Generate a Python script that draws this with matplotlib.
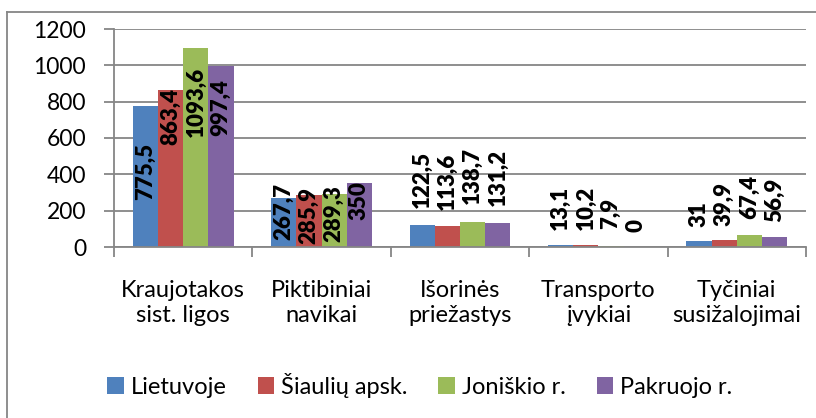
import numpy as np
import matplotlib
matplotlib.use("Agg")
import matplotlib.pyplot as plt
from matplotlib.lines import Line2D

plt.rcParams['font.family'] = ['Lato', 'DejaVu Sans']

categories = ["Kraujotakos\nsist. ligos", "Piktibiniai\nnavikai", "Išorinės\npriežastys",
              "Transporto\nįvykiai", "Tyčiniai\nsusižalojimai"]
series = ["Lietuvoje", "Šiaulių apsk.", "Joniškio r.", "Pakruojo r."]
lietuvoje = [775.5, 267.7, 122.5, 13.1, 31]
siauliu = [863.4, 285.9, 113.6, 10.2, 39.9]
joniskio = [1093.6, 289.3, 138.7, 7.9, 67.4]
pakruojo = [997.4, 350, 131.2, 0, 56.9]
labels = [["775,5", "267,7", "122,5", "13,1", "31"],
          ["863,4", "285,9", "113,6", "10,2", "39,9"],
          ["1093,6", "289,3", "138,7", "7,9", "67,4"],
          ["997,4", "350", "131,2", "0", "56,9"]]

# where the data labels sit (centre of text, in axis units), as placed in the original
label_y = [[418, 193, 374, 217, 179],
           [718, 173, 363, 217, 239],
           [801, 182, 391, 182, 278],
           [768, 253, 383, 121, 261]]

colors = ["#4F81BD", "#C0504D", "#9BBB59", "#8064A2"]
grid_c = "#868686"

W, H = 816, 418
fig = plt.figure(figsize=(W / 100, H / 100), dpi=100)
ax = fig.add_axes([114 / W, 1 - 247 / H, (806 - 114) / W, (247 - 29) / H])

x = np.arange(len(categories))
w = 1 / 5.5
for i, vals in enumerate([lietuvoje, siauliu, joniskio, pakruojo]):
    xs = x + (i - 1.5) * w
    ax.bar(xs, vals, width=w, color=colors[i], label=series[i], zorder=2)
    for j in range(len(x)):
        ax.text(xs[j], label_y[i][j], labels[i][j], rotation=90, ha="center",
                va="center", fontsize=16, fontweight="heavy", color="black", zorder=3)

ax.set_xlim(-0.5, len(categories) - 0.5)
ax.set_ylim(0, 1200)
ax.set_yticks(range(0, 1201, 200))
ax.yaxis.grid(True, color=grid_c, linewidth=1.3, zorder=0)
ax.set_axisbelow(True)

ax.set_xticks(x)
ax.set_xticklabels(categories, fontsize=17, linespacing=1.2)
ax.set_xticks(np.arange(-0.5, len(categories)), minor=True)
ax.tick_params(axis="x", which="major", length=0, pad=24)
ax.tick_params(axis="x", which="minor", length=7, width=1.3, color=grid_c)
ax.tick_params(axis="y", length=7, width=1.3, color=grid_c, labelsize=16.5, pad=13)

for s in ["top", "right"]:
    ax.spines[s].set_visible(False)
for s in ["left", "bottom"]:
    ax.spines[s].set_color(grid_c)
    ax.spines[s].set_linewidth(1.3)

# outer chart frame
fig.add_artist(Line2D([7 / W, 7 / W], [0, 1 - 12 / H], color=grid_c, linewidth=1.3))
fig.add_artist(Line2D([7 / W, 1], [1 - 12 / H, 1 - 12 / H], color=grid_c, linewidth=1.3))

fig.legend(loc="center", bbox_to_anchor=(420 / W, 1 - 385 / H), ncol=4, frameon=False,
           fontsize=17, handlelength=0.7, handleheight=0.75, handletextpad=0.3,
           columnspacing=1.3, borderaxespad=0)

fig.savefig("out.png", dpi=100)
